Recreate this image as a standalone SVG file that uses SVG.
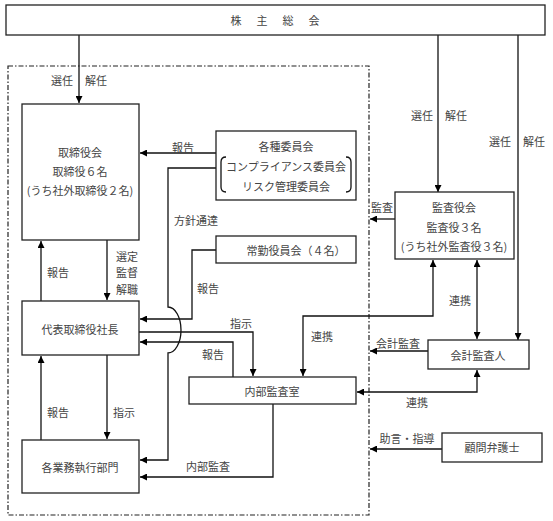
<svg xmlns="http://www.w3.org/2000/svg" width="553" height="521" viewBox="0 0 553 521">
<defs>
<marker id="ah" viewBox="0 0 10 10" refX="10" refY="5" markerWidth="7" markerHeight="7" markerUnits="userSpaceOnUse" orient="auto-start-reverse">
<path d="M0,0 L10,5 L0,10 Z" fill="#000"/>
</marker>
</defs>
<style>
.box{fill:#fff;stroke:#222;stroke-width:1.3}
.ln{fill:none;stroke:#111;stroke-width:1.3}
.ar{fill:none;stroke:#111;stroke-width:1.3;marker-end:url(#ah)}
.ar2{fill:none;stroke:#111;stroke-width:1.3;marker-end:url(#ah);marker-start:url(#ah)}
text{font-family:"Noto Sans CJK JP","Noto Sans",sans-serif;font-size:11px;fill:#444;text-anchor:middle;dominant-baseline:central}
</style>
<rect width="553" height="521" fill="#fff"/>
<rect x="8" y="66" width="361" height="449" fill="none" stroke="#222" stroke-width="1.2" stroke-dasharray="5 2 1.5 2"/>

<g id="connectors">
<path class="ar" d="M79,35 V103"/>
<path class="ar" d="M438,35 V192"/>
<path class="ar" d="M518,35 V340"/>
<path class="ar" d="M216,153 H140"/>
<path class="ar" d="M216,168 H168 V307 A13,23 0 0 1 168,353 V460 H140"/>
<path class="ar" d="M216,250 H192 V319 H140"/>
<path class="ar" d="M41,301 V241"/>
<path class="ar" d="M107,240 V300"/>
<path class="ar" d="M139,332 H253 V376"/>
<path class="ar" d="M233,377 V342 H140"/>
<path class="ar" d="M107,355 V439"/>
<path class="ar" d="M41,440 V356"/>
<path class="ar" d="M273,404 V477 H140"/>
<path class="ar" d="M395,219 H370"/>
<path class="ar2" d="M433,260 V316 H303 V376"/>
<path class="ar2" d="M477,260 V339"/>
<path class="ar" d="M428,351 H370"/>
<path class="ar2" d="M357,392 H477 V370"/>
<path class="ar" d="M442,449 H370"/>
</g>

<g id="labels">
<text x="62" y="80">選任</text><text x="96" y="80">解任</text>
<text x="422" y="115">選任</text><text x="456" y="115">解任</text>
<text x="500" y="141">選任</text><text x="534" y="141">解任</text>
<text x="183" y="147">報告</text>
<text x="196" y="220">方針通達</text>
<text x="58" y="272">報告</text>
<text x="127" y="256">選定</text><text x="127" y="272">監督</text><text x="127" y="289">解職</text>
<text x="208" y="288">報告</text>
<text x="241" y="323">指示</text>
<text x="213" y="354">報告</text>
<text x="322" y="336">連携</text>
<text x="382" y="207">監査</text>
<text x="460" y="300">連携</text>
<text x="398" y="343">会計監査</text>
<text x="417" y="402">連携</text>
<text x="407" y="438">助言・指導</text>
<text x="58" y="412">報告</text><text x="124" y="412">指示</text>
<text x="208" y="466">内部監査</text>
</g>

<g id="shareholders">
<rect class="box" x="6" y="5" width="539" height="30"/>
<text x="276" y="20" letter-spacing="2">株　主　総　会</text>
</g>
<g id="board">
<rect class="box" x="22" y="104" width="117" height="136"/>
<text x="80" y="152">取締役会</text>
<text x="80" y="171">取締役６名</text>
<text x="80" y="190">(うち社外取締役２名)</text>
</g>
<g id="committees">
<rect class="box" x="216" y="131" width="140" height="69"/>
<text x="286" y="146">各種委員会</text>
<text x="286" y="166">コンプライアンス委員会</text>
<text x="286" y="186">リスク管理委員会</text>
<path class="ln" d="M226,157 Q221,157 221,162 V187 Q221,192 226,192"/>
<path class="ln" d="M346,157 Q351,157 351,162 V187 Q351,192 346,192"/>
</g>
<g id="executive-officers">
<rect class="box" x="216" y="236" width="140" height="27"/>
<text x="296" y="250">常勤役員会（４名）</text>
</g>
<g id="auditors">
<rect class="box" x="395" y="192" width="119" height="67"/>
<text x="454" y="207">監査役会</text>
<text x="454" y="227">監査役３名</text>
<text x="454" y="246">(うち社外監査役３名)</text>
</g>
<g id="president">
<rect class="box" x="22" y="301" width="117" height="54"/>
<text x="80" y="329">代表取締役社長</text>
</g>
<g id="accounting-auditor">
<rect class="box" x="428" y="340" width="101" height="29"/>
<text x="478" y="355">会計監査人</text>
</g>
<g id="internal-audit">
<rect class="box" x="189" y="377" width="167" height="27"/>
<text x="272" y="391">内部監査室</text>
</g>
<g id="lawyer">
<rect class="box" x="442" y="433" width="100" height="29"/>
<text x="492" y="447">顧問弁護士</text>
</g>
<g id="divisions">
<rect class="box" x="22" y="440" width="117" height="53"/>
<text x="80" y="467">各業務執行部門</text>
</g>
</svg>
